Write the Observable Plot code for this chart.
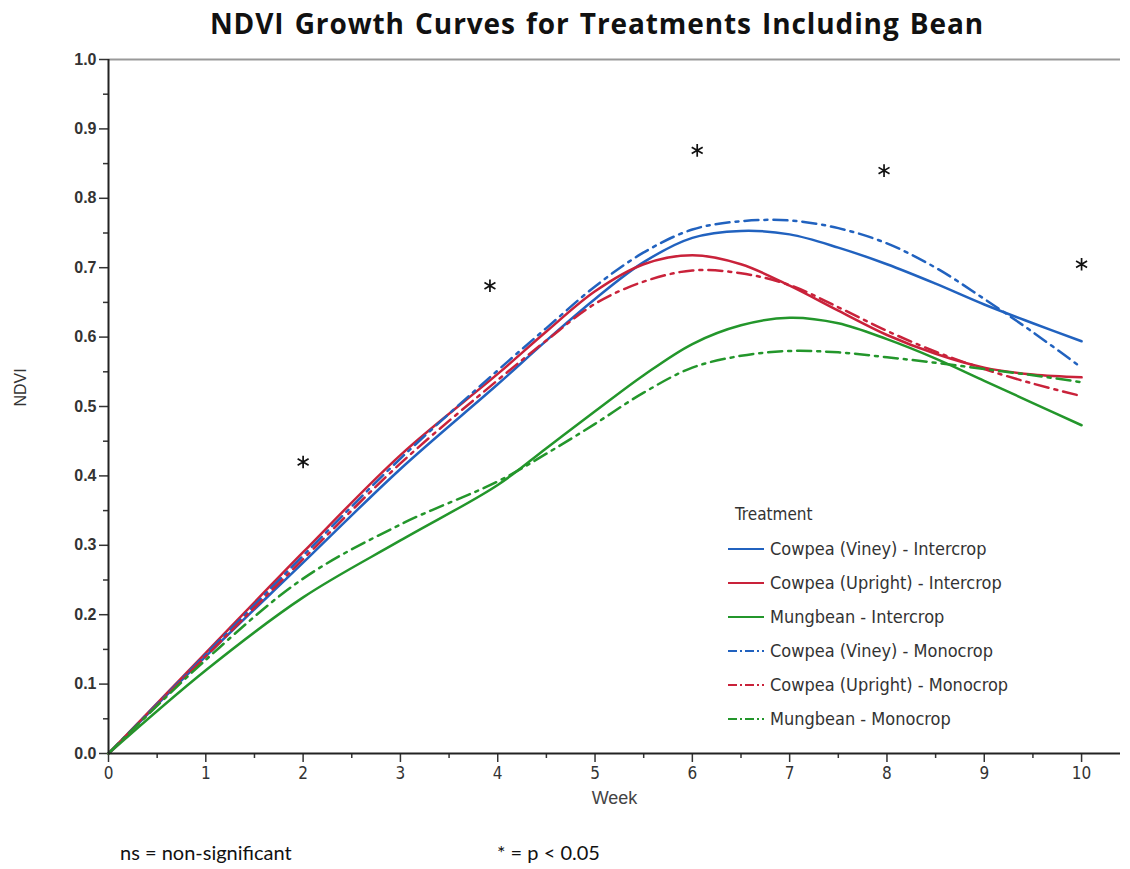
<!DOCTYPE html>
<html><head><meta charset="utf-8">
<script src="https://cdn.jsdelivr.net/npm/d3@7"></script>
<script src="https://cdn.jsdelivr.net/npm/@observablehq/plot@0.6"></script>
<style>
body{margin:0;background:#fff;width:1130px;height:869px;position:relative;overflow:hidden}
#title{position:absolute;left:0;top:4px;width:1194px;text-align:center;font:700 28px "Open Sans",sans-serif;letter-spacing:0.9px;word-spacing:2px;color:#111;}
#chart{position:absolute;left:0;top:45px;}
#legend{position:absolute;left:727px;top:500px;font-family:"Liberation Sans Narrow","DejaVu Sans Condensed",sans-serif;color:#333;}
#legend .ttl{font-size:17px;height:32px;line-height:28px;padding-left:8px;}
#legend .row{height:34px;line-height:34px;font-size:18px;white-space:nowrap;display:flex;align-items:center;}
#legend svg{margin-right:5px;}
.foot{position:absolute;top:840px;font:20px Lato,sans-serif;color:#111;}
</style></head>
<body>
<div id="title">NDVI Growth Curves for Treatments Including Bean</div>
<div id="chart"></div>
<div id="legend"></div>
<div class="foot" style="left:120px">ns = non-significant</div>
<div class="foot" style="left:497px">* = p &lt; 0.05</div>
<script>
const weeks = [0,1,2,3,4,4.5,5,5.5,6,6.5,7,7.5,8,8.5,9,9.5,10];
const cowpeaVineyIntercrop   = [0,0.140,0.275,0.410,0.532,0.595,0.655,0.708,0.743,0.753,0.748,0.729,0.705,0.677,0.647,0.620,0.594];
const cowpeaUprightIntercrop = [0,0.145,0.290,0.430,0.547,0.608,0.666,0.705,0.718,0.705,0.674,0.638,0.603,0.576,0.556,0.546,0.542];
const mungbeanIntercrop      = [0,0.120,0.225,0.307,0.387,0.440,0.493,0.545,0.590,0.617,0.628,0.620,0.597,0.569,0.537,0.505,0.473];
const cowpeaVineyMonocrop    = [0,0.143,0.285,0.425,0.552,0.613,0.673,0.722,0.755,0.767,0.768,0.757,0.735,0.700,0.655,0.607,0.556];
const cowpeaUprightMonocrop  = [0,0.140,0.280,0.418,0.538,0.595,0.648,0.680,0.696,0.692,0.675,0.643,0.609,0.579,0.554,0.533,0.515];
const mungbeanMonocrop       = [0,0.135,0.252,0.330,0.392,0.432,0.475,0.520,0.556,0.573,0.580,0.578,0.571,0.563,0.554,0.545,0.535];

const treatments = ["Cowpea (Viney) - Intercrop","Cowpea (Upright) - Intercrop","Mungbean - Intercrop",
                    "Cowpea (Viney) - Monocrop","Cowpea (Upright) - Monocrop","Mungbean - Monocrop"];
const colors = ["#2162bf","#c9223a","#23962b","#2162bf","#c9223a","#23962b"];
const dashed = [false,false,false,true,true,true];
const seriesValues = [cowpeaVineyIntercrop,cowpeaUprightIntercrop,mungbeanIntercrop,cowpeaVineyMonocrop,cowpeaUprightMonocrop,mungbeanMonocrop];

const sigWeeks = [2.0,3.92,6.05,7.97,10.0];
const sigNDVI  = [0.42,0.674,0.869,0.840,0.705];

const yTicks = [0,0.1,0.2,0.3,0.4,0.5,0.6,0.7,0.8,0.9,1.0];
const yMinor = [0.05,0.15,0.25,0.35,0.45,0.55,0.65,0.75,0.85,0.95];
const xTicks = [0,1,2,3,4,5,6,7,8,9,10];
const xMinor = [0.5,1.5,2.5,3.5,4.5,5.5,6.5,7.5,8.5,9.5];

const rows = [];
seriesValues.forEach((vals,i)=>vals.forEach((v,j)=>rows.push({treatment:treatments[i],dashed:dashed[i],week:weeks[j],ndvi:v})));
const sig = sigWeeks.map((w,i)=>({week:w,ndvi:sigNDVI[i]}));
const DASH = "14,6,3,6";

const chart = Plot.plot({
  width:1130, height:780,
  marginTop:14, marginLeft:108, marginRight:10, marginBottom:72,
  x:{domain:[0,10.4]},
  y:{domain:[0,1]},
  color:{domain:treatments, range:colors},
  style:{fontFamily:"Liberation Sans, Arial, sans-serif", fontSize:"16px", color:"#333", background:"white"},
  marks:[
    Plot.ruleY([1],{stroke:"#999",strokeWidth:2}),
    Plot.axisY(yTicks,{tickSize:9,tickPadding:3,tickFormat:d=>d.toFixed(1),label:null,fontWeight:"bold",fontSize:16,strokeWidth:1.5}),
    Plot.axisY(yMinor,{tickSize:5,text:null,label:null,strokeWidth:1.5}),
    Plot.axisX(xTicks,{tickSize:9,tickPadding:4,label:null,fontSize:17,strokeWidth:1.5,fontFamily:"Liberation Sans Narrow, DejaVu Sans Condensed, sans-serif"}),
    Plot.axisX(xMinor,{tickSize:5,text:null,label:null,strokeWidth:1.5}),
    Plot.text(["Week"],{frameAnchor:"bottom",dy:50,fontSize:18,fill:"#444"}),
    Plot.text(["NDVI"],{frameAnchor:"left",dx:-88,rotate:-90,fontSize:16,fill:"#333"}),
    Plot.line(rows.filter(d=>!d.dashed),{x:"week",y:"ndvi",z:"treatment",stroke:"treatment",strokeWidth:2.5,curve:"catmull-rom"}),
    Plot.line(rows.filter(d=>d.dashed),{x:"week",y:"ndvi",z:"treatment",stroke:"treatment",strokeWidth:2.5,strokeDasharray:DASH,curve:"catmull-rom"}),
    Plot.ruleX([0],{y1:0,y2:1,stroke:"#222",strokeWidth:2}),
    Plot.ruleY([0],{stroke:"#222",strokeWidth:2}),
    Plot.dot(sig,{x:"week",y:"ndvi",symbol:"asterisk",r:6,stroke:"#111",strokeWidth:1.7})
  ]
});
document.getElementById("chart").append(chart);

const legend = document.getElementById("legend");
legend.innerHTML = `<div class="ttl">Treatment</div>` + treatments.map((t,i)=>
  `<div class="row"><svg width="38" height="10"><line x1="1" y1="5" x2="37" y2="5" stroke="${colors[i]}" stroke-width="2" ${dashed[i]?'stroke-dasharray="9,3,2,3"':''}/></svg><span>${t}</span></div>`).join("");
</script>
</body></html>
